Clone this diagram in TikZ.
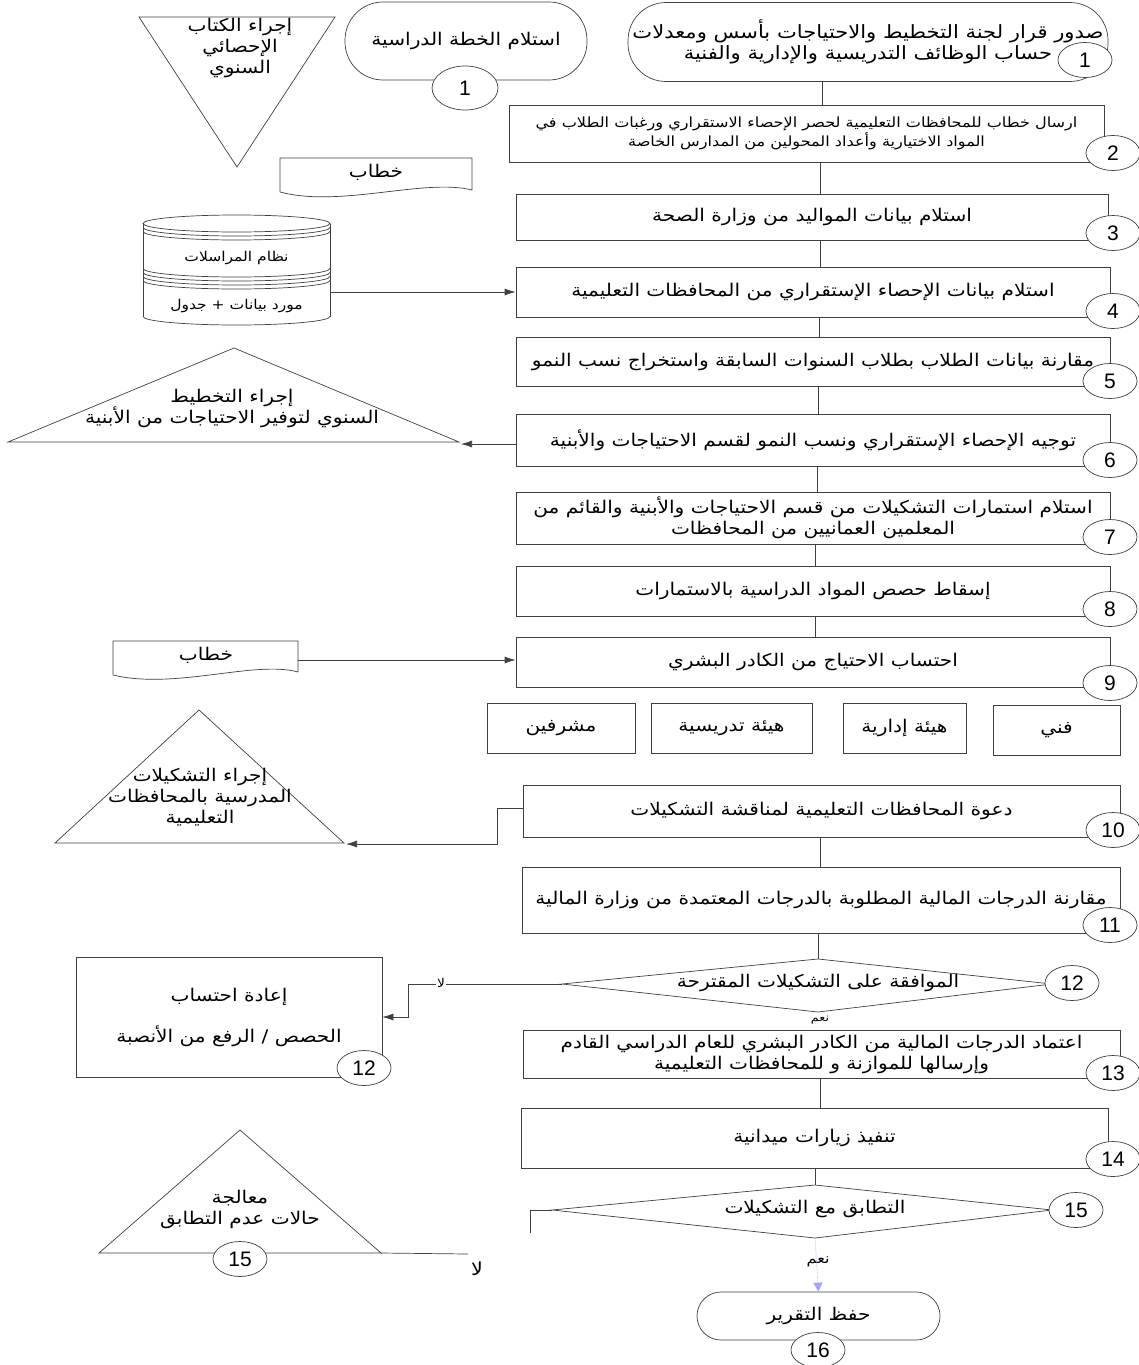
\documentclass[tikz,border=0pt]{standalone}
\usepackage{fontspec}
\setmainfont{Liberation Sans}
\newfontfamily\arabicfont[Script=Arabic,FakeStretch=1.15]{DejaVu Sans}
\TeXXeTstate=1
\usetikzlibrary{shapes.geometric,arrows.meta,calc}
\newcommand{\AR}[1]{{\arabicfont\beginR #1\endR}}
\newcommand{\fmain}{\fontsize{17.5}{21}\selectfont}
\newcommand{\fbig}{\fontsize{18.3}{21}\selectfont}
\newcommand{\fsmall}{\fontsize{14}{17}\selectfont}
\newcommand{\fcyl}{\fontsize{13.5}{16}\selectfont}
\newcommand{\fnum}{\fontsize{21}{22}\selectfont}
\tikzset{
  ln/.style={line width=0.7pt, draw=black!75},
  proc/.style={ln, rectangle, inner sep=0pt, align=center, font=\fmain},
  term/.style={proc, rounded corners=#1},
  num/.style={ln, ellipse, fill=white, minimum width=54pt, minimum height=35pt, inner sep=0pt, font=\fnum},
  txt/.style={inner sep=0pt, align=center, font=\fmain},
  arr/.style={ln, -{Latex[length=11pt,width=7pt]}},
}
\begin{document}
\begin{tikzpicture}[x=1pt,y=-1pt]
\useasboundingbox (0,0) rectangle (1139,1365);
\fill[white] (0,0) rectangle (1139,1365);

% ---- top terminals ----
\node[term=38pt, minimum width=480pt, minimum height=79pt, font=\fbig] (t1) at (868,42)
  {\AR{صدور قرار لجنة التخطيط والاحتياجات بأسس ومعدلات}\\\AR{حساب الوظائف التدريسية والإدارية والفنية}};
\node[num] (n1) at (1085,60) {1};

\node[term=38pt, minimum width=242pt, minimum height=78pt] (t0) at (466,41)
  {\AR{استلام الخطة الدراسية}};
\node[num, minimum width=66pt, minimum height=44pt] (n1b) at (465,88) {1};

% inverted triangle
\draw[ln] (139,17) -- (335,17) -- (237,167) -- cycle;
\node[txt] (tri0) at (240,48) {\AR{إجراء الكتاب}\\\AR{الإحصائي}\\\AR{السنوي}};

% ---- box 2 ----
\node[proc, font=\fsmall, minimum width=595pt, minimum height=57pt] (b2) at (806.5,133.5)
  {\AR{ارسال خطاب للمحافظات التعليمية لحصر الإحصاء الاستقراري ورغبات الطلاب في}\\\AR{المواد الاختيارية وأعداد المحولين من المدارس الخاصة}};
\node[num] (n2) at (1113,153) {2};

% document 1
\draw[ln] (280,192) -- (280,158) -- (472,158) -- (472,190)
  .. controls (425,178) and (340,208) .. (280,192);
\node[txt] (doc1) at (376,172) {\AR{خطاب}};

% ---- box 3 ----
\node[proc, minimum width=592pt, minimum height=46pt] (b3) at (812,217)
  {\AR{استلام بيانات المواليد من وزارة الصحة}};
\node[num] (n3) at (1113,233) {3};

% cylinder
\draw[ln] (143,223.5) -- (143,316.5);
\draw[ln] (330,223.5) -- (330,316.5);
\draw[ln] (236.5,223.5) ellipse [x radius=93.5, y radius=8.5];
\foreach \yy in {227.5,231.5,268.5,272.5,276.5,280.5,316.5}
  \draw[ln] (143,\yy) arc[start angle=180, end angle=360, x radius=93.5, y radius=-8.5];
\node[txt, font=\fcyl] (cyl1) at (236.5,258) {\AR{نظام المراسلات}};
\node[txt, font=\fcyl] (cyl2) at (236.5,306) {\AR{مورد بيانات + جدول}};
\coordinate (cylr) at (330,292);

% ---- box 4 ----
\node[proc, minimum width=594pt, minimum height=50pt] (b4) at (813,292)
  {\AR{استلام بيانات الإحصاء الإستقراري من المحافظات التعليمية}};
\node[num] (n4) at (1113,311) {4};
\draw[arr] (cylr) -- (b4.west);

% ---- box 5 ----
\node[proc, minimum width=594pt, minimum height=49pt] (b5) at (813,361.5)
  {\AR{مقارنة بيانات الطلاب بطلاب السنوات السابقة واستخراج نسب النمو}};
\node[num] (n5) at (1110,381) {5};

% triangle 1
\draw[ln] (234,348) -- (459,442) -- (8,442) -- cycle;
\coordinate (tri1r) at (461,444);
\node[txt] (tri1) at (232,408) {\AR{إجراء التخطيط}\\\AR{السنوي لتوفير الاحتياجات من الأبنية}};

% ---- box 6 ----
\node[proc, minimum width=594pt, minimum height=52pt] (b6) at (813,440)
  {\AR{توجيه الإحصاء الإستقراري ونسب النمو لقسم الاحتياجات والأبنية}};
\node[num] (n6) at (1110,460) {6};
\draw[arr] (b6.west |- tri1r) -- (tri1r);

% ---- box 7 ----
\node[proc, minimum width=594pt, minimum height=52pt] (b7) at (813,518)
  {\AR{استلام استمارات التشكيلات من قسم الاحتياجات والأبنية والقائم من}\\\AR{المعلمين العمانيين من المحافظات}};
\node[num] (n7) at (1110,537) {7};

% ---- box 8 ----
\node[proc, minimum width=594pt, minimum height=50pt] (b8) at (813,591)
  {\AR{إسقاط حصص المواد الدراسية بالاستمارات}};
\node[num] (n8) at (1110,609) {8};

% document 2
\draw[ln] (113,675) -- (113,641) -- (298,641) -- (298,672)
  .. controls (255,660) and (175,690) .. (113,675);
\node[txt] (doc2) at (206,655) {\AR{خطاب}};
\coordinate (d2r) at (298,660);

% ---- box 9 ----
\node[proc, minimum width=594pt, minimum height=50pt] (b9) at (813,662)
  {\AR{احتساب الاحتياج من الكادر البشري}};
\node[num] (n9) at (1110,683) {9};
\draw[arr] (d2r) -- (b9.west |- d2r);

% four boxes
\node[proc, minimum width=148pt, minimum height=50pt] (s1) at (561,728) {\AR{مشرفين}};
\node[proc, minimum width=161pt, minimum height=50pt] (s2) at (731.5,728) {\AR{هيئة تدريسية}};
\node[proc, minimum width=123pt, minimum height=50pt] (s3) at (904.5,728) {\AR{هيئة إدارية}};
\node[proc, minimum width=127pt, minimum height=50pt] (s4) at (1056.5,730) {\AR{فني}};

% triangle 2
\draw[ln] (199,710) -- (344,843) -- (55,843) -- cycle;
\coordinate (tri2r) at (346,844);
\node[txt] (tri2) at (200,797) {\AR{إجراء التشكيلات}\\\AR{المدرسية بالمحافظات}\\\AR{التعليمية}};

% ---- box 10 ----
\node[proc, minimum width=597pt, minimum height=52pt] (b10) at (821.5,811)
  {\AR{دعوة المحافظات التعليمية لمناقشة التشكيلات}};
\node[num] (n10) at (1113,830) {10};
\coordinate (b10k) at (497,808);
\draw[arr] (b10.west |- b10k) -- (b10k) -- (b10k |- tri2r) -- (tri2r);

% ---- box 11 ----
\node[proc, minimum width=598pt, minimum height=66pt] (b11) at (821,900)
  {\AR{مقارنة الدرجات المالية المطلوبة بالدرجات المعتمدة من وزارة المالية}};
\node[num] (n11) at (1110,925) {11};

% diamond 12
\coordinate (d12l) at (562,984);
\coordinate (d12r) at (1052,984);
\coordinate (d12t) at (818,959);
\coordinate (d12b) at (818,1012);
\draw[ln] (d12l) -- (d12t) -- (d12r) -- (d12b) -- cycle;
\node[txt] (d12) at (818,983) {\AR{الموافقة على التشكيلات المقترحة}};
\node[num] (n12) at (1072,983) {12};

% box 12 retry
\node[proc, minimum width=306pt, minimum height=120pt] (r12) at (229,1017)
  {\AR{إعادة احتساب}\\[20pt]\AR{الحصص / الرفع من الأنصبة}};
\node[num] (n12b) at (364,1068) {12};
\coordinate (r12k) at (408,984);
\draw[arr] (d12l) -- (r12k) -- (r12k |- r12.east) -- (r12.east);
\node[fill=white, inner sep=1pt, font=\fontsize{12}{14}\selectfont] (no12) at (441,983) {\AR{لا}};

% ---- box 13 ----
\node[proc, minimum width=597pt, minimum height=48pt] (b13) at (821.5,1054)
  {\AR{اعتماد الدرجات المالية من الكادر البشري للعام الدراسي القادم}\\\AR{وإرسالها للموازنة و للمحافظات التعليمية}};
\node[num] (n13) at (1113,1073) {13};
\node[txt, font=\fontsize{11}{12}\selectfont] (yes12) at (820,1020) {\AR{نعم}};

% ---- box 14 ----
\node[proc, minimum width=587pt, minimum height=60pt] (b14) at (814.5,1138)
  {\AR{تنفيذ زيارات ميدانية}};
\node[num] (n14) at (1113,1159) {14};

% diamond 15
\coordinate (d15l) at (552,1210);
\coordinate (d15r) at (1052,1210);
\coordinate (d15t) at (815,1185);
\coordinate (d15b) at (815,1238);
\draw[ln] (d15l) -- (d15t) -- (d15r) -- (d15b) -- cycle;
\node[txt] (d15) at (815,1209) {\AR{التطابق مع التشكيلات}};
\node[num] (n15) at (1076,1210) {15};
\coordinate (d15k) at (530,1210);
\coordinate (d15e) at (530,1233);
\draw[ln] (d15l) -- (d15k) -- (d15e);

% triangle 3
\draw[ln] (240,1130) -- (381,1253) -- (99,1253) -- cycle;
\node[txt] (tri3) at (240,1209) {\AR{معالجة}\\\AR{حالات عدم التطابق}};
\node[num] (n15b) at (240,1259) {15};
\coordinate (tri3r) at (381,1253);
\coordinate (no15e) at (468,1254);
\draw[ln] (tri3r) -- (no15e);
\node[txt, font=\fontsize{18}{20}\selectfont] (no15) at (477,1269) {\AR{لا}};

% terminal 16
\node[term=24pt, minimum width=243pt, minimum height=48pt] (t16) at (818.5,1316)
  {\AR{حفظ التقرير}};
\node[num] (n16) at (818,1350) {16};
\node[txt, font=\fontsize{14}{16}\selectfont] (yes15) at (818,1262) {\AR{نعم}};
\draw[line width=0.7pt, draw=blue!30, densely dotted, -{Triangle[length=9pt,width=9pt,color=blue!35,fill=blue!35]}] (d15b) -- (t16.north);

% vertical connectors
\draw[ln] (t1.south) ++(-46,0) coordinate (t1s) -- (t1s |- b2.north);
\draw[ln] (b2.south -| 820,0) -- (b3.north -| 820,0);
\draw[ln] (b3.south -| 820,0) -- (b4.north -| 820,0);
\draw[ln] (b4.south -| 819,0) -- (b5.north -| 819,0);
\draw[ln] (b5.south -| 818,0) -- (b6.north -| 818,0);
\draw[ln] (b6.south -| 817,0) -- (b7.north -| 817,0);
\draw[ln] (b7.south -| 815,0) -- (b8.north -| 815,0);
\draw[ln] (b8.south -| 815,0) -- (b9.north -| 815,0);
\draw[ln] (b10.south -| 820,0) -- (b11.north -| 820,0);
\draw[ln] (b11.south -| 818,0) -- (d12t);
\draw[ln] (b13.south -| 820,0) -- (b14.north -| 820,0);
\draw[ln] (b14.south -| 815,0) -- (d15t);
\end{tikzpicture}
\end{document}
